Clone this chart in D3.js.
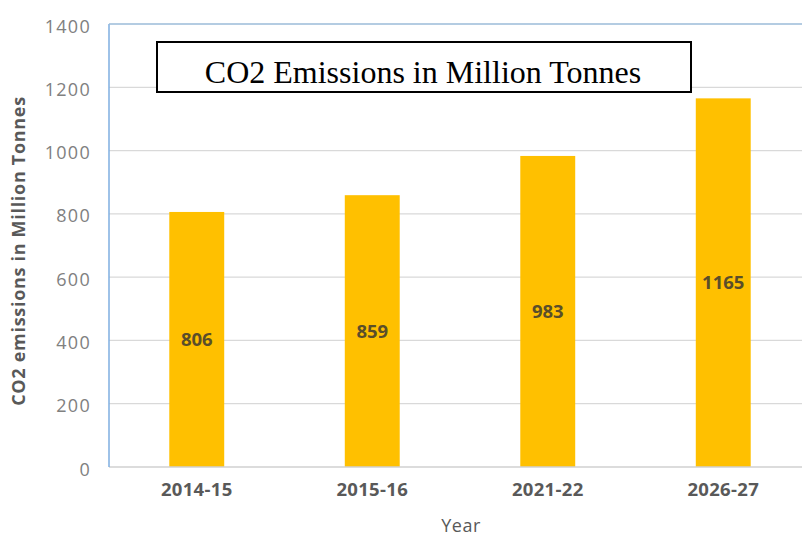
<!DOCTYPE html>
<html><head><meta charset="utf-8">
<script src="https://cdn.jsdelivr.net/npm/d3@7"></script>
<style>body{margin:0;background:#fff}svg{display:block}</style>
</head><body>
<svg id="c" width="802" height="537"></svg>
<script>
const categories = ["2014-15","2015-16","2021-22","2026-27"];
const values = [806, 859, 983, 1165];
const yTicks = [0,200,400,600,800,1000,1200,1400];
const title = "CO2 Emissions in Million Tonnes";
const yTitle = "CO2 emissions in Million Tonnes";
const xTitle = "Year";

(function(){
const svg = d3.select("#c");
const pL = 109, pR = 811, pT = 24, pB = 467;
const x = d3.scaleBand().domain(categories).range([pL, pR]).paddingInner(0.687).paddingOuter(0.3435);
const y = d3.scaleLinear().domain([0,1400]).range([pB, pT]);
const sans = "'Open Sans', sans-serif";

// gridlines
svg.append("g").selectAll("line").data(yTicks.filter(t=>t>0 && t<1400)).join("line")
  .attr("x1", pL).attr("x2", 802).attr("y1", d=>y(d)).attr("y2", d=>y(d))
  .attr("stroke", "#d9d9d9").attr("stroke-width", 1.2);

// bars
svg.append("g").selectAll("rect").data(values).join("rect")
  .attr("x", (d,i)=>x(categories[i])).attr("width", x.bandwidth())
  .attr("y", d=>y(d)).attr("height", d=>pB - y(d))
  .attr("fill", "#FFC000");

// bottom axis line
svg.append("line").attr("x1", pL).attr("x2", 802).attr("y1", pB).attr("y2", pB)
  .attr("stroke", "#d0d0d0").attr("stroke-width", 1.5);
// left and top borders
svg.append("line").attr("x1", pL).attr("x2", pL).attr("y1", pT).attr("y2", pB)
  .attr("stroke", "#7eaee0").attr("stroke-width", 1.5);
svg.append("line").attr("x1", pL).attr("x2", 802).attr("y1", pT).attr("y2", pT)
  .attr("stroke", "#9bbbd9").attr("stroke-width", 1.5);

// y axis labels
const yAxis = d3.axisLeft(y).tickValues(yTicks).tickFormat(d3.format("d")).tickSize(0).tickPadding(18);
const gy = svg.append("g").attr("transform", `translate(${pL},0)`).call(yAxis);
gy.select(".domain").remove();
gy.selectAll("text").attr("font-family", sans).attr("font-size", 18).attr("letter-spacing", 1.3)
  .attr("fill", "#808080").attr("dy", "0.45em");

// x axis labels
const xAxis = d3.axisBottom(x).tickSize(0).tickPadding(16);
const gx = svg.append("g").attr("transform", `translate(0,${pB})`).call(xAxis);
gx.select(".domain").remove();
gx.selectAll("text").attr("font-family", sans).attr("font-size", 18.5).attr("font-weight", "bold")
  .attr("letter-spacing", 0.3).attr("fill", "#595959");

// value labels
svg.append("g").selectAll("text").data(values).join("text")
  .attr("x", (d,i)=>x(categories[i]) + x.bandwidth()/2)
  .attr("y", d=>y(d/2)).attr("dy", "0.35em")
  .attr("text-anchor", "middle")
  .attr("font-family", sans).attr("font-size", 18.5).attr("font-weight", "bold")
  .attr("fill", "#5a4e2a").text(d=>d);

// axis titles
svg.append("text").attr("x", 461).attr("y", 532).attr("text-anchor", "middle")
  .attr("font-family", sans).attr("font-size", 18).attr("letter-spacing", 0.5).attr("fill", "#595959").text(xTitle);
svg.append("text").attr("transform", "translate(25,251) rotate(-90)").attr("text-anchor", "middle")
  .attr("font-family", sans).attr("font-size", 18).attr("font-weight", "bold").attr("letter-spacing", 0.7)
  .attr("fill", "#595959").text(yTitle);

// title box
svg.append("rect").attr("x", 157).attr("y", 42).attr("width", 534).attr("height", 50)
  .attr("fill", "#fff").attr("stroke", "#000").attr("stroke-width", 2);
svg.append("text").attr("x", 423).attr("y", 83).attr("text-anchor", "middle")
  .attr("font-family", "'Liberation Serif', 'Times New Roman', serif").attr("font-size", 32).attr("fill", "#000").text(title);
})();
</script>
</body></html>
